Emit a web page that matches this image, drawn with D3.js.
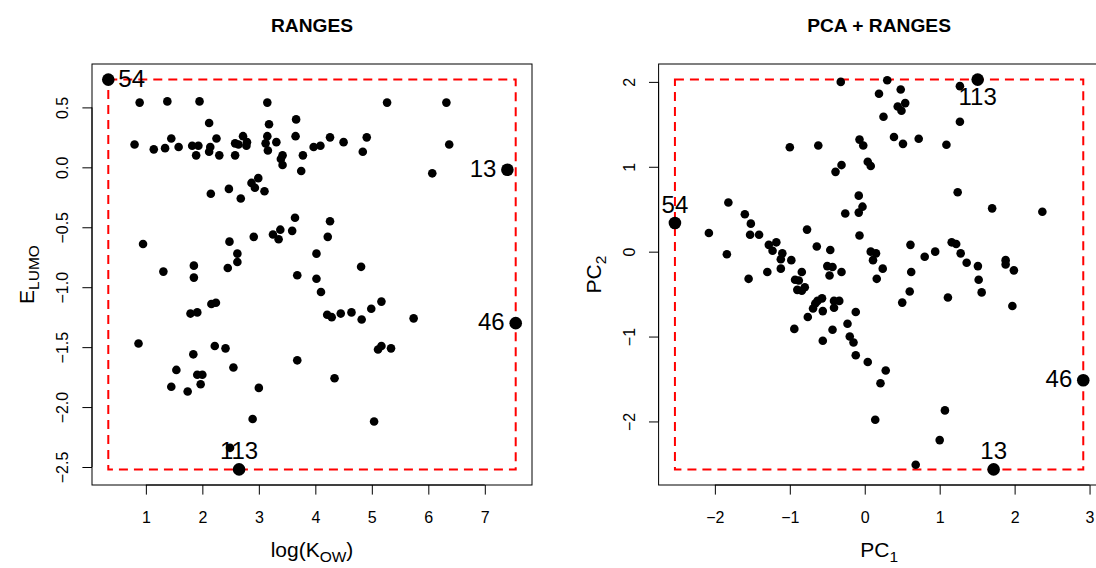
<!DOCTYPE html>
<html>
<head>
<meta charset="utf-8">
<script src="https://cdn.jsdelivr.net/npm/d3@7"></script>
<style>
body { margin: 0; background: #fff; }
text { font-family: "Liberation Sans", Arial, Helvetica, sans-serif; fill: #000; }
</style>
</head>
<body>
<svg id="chart" width="1096" height="568"></svg>
<script>
// ---- left panel: RANGES (logKow vs ELUMO) ----
var kow = [0.89,1.38,1.95,3.15,2.12,3.18,3.66,3.65,0.80,1.14,1.34,1.45,1.58,1.82,1.93,1.89,2.14,2.12,2.25,2.30,
    2.58,2.64,2.58,2.72,2.79,2.78,3.12,3.15,3.16,3.31,3.39,3.42,3.42,3.78,3.75,2.15,2.47,2.68,2.87,2.93,
    2.99,3.10,5.27,6.32,4.26,3.97,4.09,4.50,4.91,4.84,6.37,6.07,3.64,3.38,3.25,3.35,3.59,2.91,2.48,2.62,
    2.62,2.45,1.85,1.85,1.31,0.95,3.68,2.16,2.24,1.79,1.91,0.87,2.22,2.41,4.26,4.22,4.02,4.02,4.10,4.81,
    4.21,4.29,4.45,4.64,4.82,4.99,5.17,5.74,5.11,5.17,5.34,1.84,1.54,1.91,2.00,2.55,3.68,1.45,1.74,1.97,
    3.00,2.89,2.49,4.34,5.04];
var elumo = [0.54,0.55,0.55,0.54,0.37,0.36,0.40,0.26,0.19,0.15,0.16,0.24,0.17,0.18,0.18,0.10,0.17,0.13,0.24,0.10,
    0.20,0.19,0.10,0.26,0.21,0.18,0.20,0.26,0.14,0.21,0.07,0.10,0.02,0.10,-0.03,-0.22,-0.18,-0.26,-0.13,-0.17,
    -0.09,-0.20,0.54,0.54,0.25,0.17,0.18,0.21,0.25,0.13,0.19,-0.05,-0.42,-0.52,-0.56,-0.60,-0.53,-0.58,-0.62,-0.72,
    -0.79,-0.84,-0.82,-0.92,-0.87,-0.64,-0.90,-1.14,-1.13,-1.22,-1.21,-1.47,-1.49,-1.51,-0.45,-0.58,-0.72,-0.93,-1.04,-0.83,
    -1.23,-1.25,-1.22,-1.21,-1.27,-1.18,-1.12,-1.26,-1.52,-1.49,-1.51,-1.56,-1.69,-1.73,-1.73,-1.67,-1.61,-1.83,-1.87,-1.81,
    -1.84,-2.10,-2.34,-1.76,-2.12];
var leftIds = ['54', '13', '46', '113'];
var leftIdX = [0.335, 7.40, 7.547, 2.65];
var leftIdY = [0.732, -0.02, -1.30, -2.52];
var leftIdPos = [4, 2, 2, 3];
var leftXTicks = [1, 2, 3, 4, 5, 6, 7];
var leftYTicks = [-2.5, -2, -1.5, -1, -0.5, 0, 0.5];

// ---- right panel: PCA + RANGES (PC1 vs PC2) ----
var pc1 = [-0.32,0.19,-1.00,-0.62,-0.07,-0.02,0.04,0.08,-0.31,-0.39,-1.82,-0.08,-0.03,
    0.30,0.48,0.44,0.54,0.49,0.25,0.39,0.51,0.72,1.09,1.27,1.27,1.24,1.70,2.37,
    -1.60,-1.52,-2.08,-1.53,-1.41,-1.84,-1.55,-1.30,-1.28,-1.18,-1.23,-1.10,-1.12,-0.98,-1.12,-0.77,-0.64,-0.46,
    -0.84,-0.93,-0.88,-0.90,-0.80,-0.84,-0.50,-0.43,-0.47,-0.31,-0.57,-0.63,-0.66,-0.69,-0.56,-0.41,-0.34,-0.41,
    -0.76,-0.12,-0.94,-0.43,-0.23,-0.20,-0.15,-0.56,-0.26,-0.08,-0.07,0.08,0.15,0.11,0.16,0.24,
    0.61,0.80,0.94,1.16,1.22,1.28,1.36,1.51,1.52,1.56,1.88,1.88,1.99,1.97,0.62,0.60,0.50,1.11,
    -0.12,0.04,0.21,0.14,0.28,1.07,1.00,0.68];
var pc2 = [2.00,1.86,1.23,1.25,1.32,1.25,1.06,1.01,1.02,0.94,0.58,0.66,0.53,
    2.02,1.91,1.71,1.75,1.66,1.59,1.35,1.27,1.33,1.26,1.53,1.95,0.70,0.51,0.47,
    0.44,0.33,0.22,0.20,0.20,-0.03,-0.32,-0.24,0.08,0.11,0.01,-0.02,-0.09,-0.10,-0.20,0.26,0.06,0.02,
    -0.24,-0.33,-0.34,-0.45,-0.42,-0.46,-0.17,-0.18,-0.28,-0.24,-0.55,-0.58,-0.61,-0.67,-0.70,-0.58,-0.58,-0.66,
    -0.77,-0.71,-0.91,-0.92,-0.85,-1.00,-1.07,-1.05,0.45,0.46,0.19,0.00,-0.02,-0.10,-0.32,-0.20,
    0.08,-0.06,0.00,0.11,0.09,-0.02,-0.13,-0.17,-0.33,-0.48,-0.10,-0.15,-0.22,-0.64,-0.24,-0.47,-0.60,-0.54,
    -1.22,-1.30,-1.55,-1.98,-1.40,-1.87,-2.22,-2.51];
var rightIds = ['54', '113', '46', '13'];
var rightIdX = [-2.533, 1.507, 2.916, 1.72];
var rightIdY = [0.337, 2.027, -1.514, -2.565];
var rightIdPos = [3, 1, 2, 3];
var rightXTicks = [-2, -1, 0, 1, 2, 3];
var rightYTicks = [-2, -1, 0, 1, 2];

var svg = d3.select('#chart');
var fontFam = '"Liberation Sans", Arial, Helvetica, sans-serif';

function minusFmt(fmt){
    return function(d){ return fmt(d).replace('-', '\u2212'); };
}

function drawPanel(cfg){
    var g = svg.append('g');

    // all values incl. labelled points, range extended by 4% like R
    var allX = cfg.xs.concat(cfg.idX);
    var allY = cfg.ys.concat(cfg.idY);
    var xe = d3.extent(allX), ye = d3.extent(allY);
    var xp = (xe[1] - xe[0]) * 0.04, yp = (ye[1] - ye[0]) * 0.04;

    var x = d3.scaleLinear().domain([xe[0] - xp, xe[1] + xp]).range([cfg.left, cfg.right]);
    var y = d3.scaleLinear().domain([ye[0] - yp, ye[1] + yp]).range([cfg.bottom, cfg.top]);

    // x axis
    var xa = g.append('g')
        .attr('transform', 'translate(0,' + cfg.bottom + ')')
        .call(d3.axisBottom(x).tickValues(cfg.xTicks).tickSize(9.6).tickSizeOuter(0)
            .tickPadding(17).tickFormat(minusFmt(d3.format('d'))));
    xa.select('.domain').attr('d', 'M' + x(cfg.xTicks[0]) + ',0H' + x(cfg.xTicks[cfg.xTicks.length - 1]));
    xa.attr('font-size', 16).attr('font-family', fontFam);
    xa.selectAll('line, path').attr('stroke', '#000');

    // y axis, labels rotated like R
    var ya = g.append('g')
        .attr('transform', 'translate(' + cfg.left + ',0)')
        .call(d3.axisLeft(y).tickValues(cfg.yTicks).tickSize(9.6).tickSizeOuter(0)
            .tickFormat(minusFmt(d3.format(cfg.yFmt))));
    ya.select('.domain').attr('d', 'M0,' + y(cfg.yTicks[0]) + 'V' + y(cfg.yTicks[cfg.yTicks.length - 1]));
    ya.attr('font-size', 16).attr('font-family', fontFam);
    ya.selectAll('line, path').attr('stroke', '#000');
    ya.selectAll('text')
        .attr('x', 0).attr('y', -24).attr('dy', 0)
        .attr('transform', 'rotate(-90)')
        .style('text-anchor', 'middle');

    // plot box
    g.append('rect')
        .attr('x', cfg.left).attr('y', cfg.top)
        .attr('width', cfg.right - cfg.left).attr('height', cfg.bottom - cfg.top)
        .attr('fill', 'none').attr('stroke', '#000').attr('stroke-width', 1);

    // red dashed range box
    g.append('rect')
        .attr('x', x(xe[0])).attr('y', y(ye[1]))
        .attr('width', x(xe[1]) - x(xe[0])).attr('height', y(ye[0]) - y(ye[1]))
        .attr('fill', 'none').attr('stroke', '#ff0000').attr('stroke-width', 2)
        .attr('stroke-dasharray', '9,6');

    // points
    g.selectAll('.pt').data(d3.range(cfg.xs.length)).enter()
        .append('circle')
        .attr('class', 'pt')
        .attr('cx', function(i){ return x(cfg.xs[i]); })
        .attr('cy', function(i){ return y(cfg.ys[i]); })
        .attr('r', 4.3)
        .attr('fill', '#000');

    // labelled points
    g.selectAll('.big').data(d3.range(cfg.ids.length)).enter()
        .append('circle')
        .attr('class', 'big')
        .attr('cx', function(i){ return x(cfg.idX[i]); })
        .attr('cy', function(i){ return y(cfg.idY[i]); })
        .attr('r', 6.3)
        .attr('fill', '#000');

    g.selectAll('.lab').data(d3.range(cfg.ids.length)).enter()
        .append('text')
        .attr('class', 'lab')
        .attr('font-size', 24)
        .attr('x', function(i){
            var p = cfg.idPos[i], px = x(cfg.idX[i]);
            if (p == 4) return px + 10;
            if (p == 2) return px - 11;
            return px;
        })
        .attr('y', function(i){
            var p = cfg.idPos[i], py = y(cfg.idY[i]);
            if (p == 3) return py - 10.5;
            if (p == 1) return py + 25.5;
            return py + 7;
        })
        .attr('text-anchor', function(i){
            var p = cfg.idPos[i];
            return p == 4 ? 'start' : (p == 2 ? 'end' : 'middle');
        })
        .text(function(i){ return cfg.ids[i]; });

    // title
    var cx = (cfg.left + cfg.right) / 2;
    g.append('text')
        .attr('x', cx).attr('y', 32)
        .attr('text-anchor', 'middle')
        .attr('font-size', 19.2).attr('font-weight', 'bold')
        .text(cfg.title);

    // x label with subscript
    var xt = g.append('text')
        .attr('x', cx).attr('y', 557)
        .attr('text-anchor', 'middle')
        .attr('font-size', 21);
    xt.append('tspan').text(cfg.xLab[0]);
    xt.append('tspan').attr('font-size', 15.5).attr('dy', 5).text(cfg.xLab[1]);
    xt.append('tspan').attr('dy', -5).text(cfg.xLab[2]);

    // y label with subscript
    var cy = (cfg.top + cfg.bottom) / 2;
    var yt = g.append('text')
        .attr('transform', 'translate(' + (cfg.left - 58) + ',' + cy + ') rotate(-90)')
        .attr('text-anchor', 'middle')
        .attr('font-size', 21);
    yt.append('tspan').text(cfg.yLab[0]);
    yt.append('tspan').attr('font-size', 15.5).attr('dy', 5).text(cfg.yLab[1]);
}

drawPanel({
    left: 92, right: 532, top: 64, bottom: 485,
    xs: kow, ys: elumo,
    ids: leftIds, idX: leftIdX, idY: leftIdY, idPos: leftIdPos,
    xTicks: leftXTicks, yTicks: leftYTicks, yFmt: '.1f',
    title: 'RANGES',
    xLab: ['log(K', 'OW', ')'],
    yLab: ['E', 'LUMO']
});

drawPanel({
    left: 658.6, right: 1099.6, top: 64, bottom: 485,
    xs: pc1, ys: pc2,
    ids: rightIds, idX: rightIdX, idY: rightIdY, idPos: rightIdPos,
    xTicks: rightXTicks, yTicks: rightYTicks, yFmt: 'd',
    title: 'PCA + RANGES',
    xLab: ['PC', '1', ''],
    yLab: ['PC', '2']
});
</script>
</body>
</html>
